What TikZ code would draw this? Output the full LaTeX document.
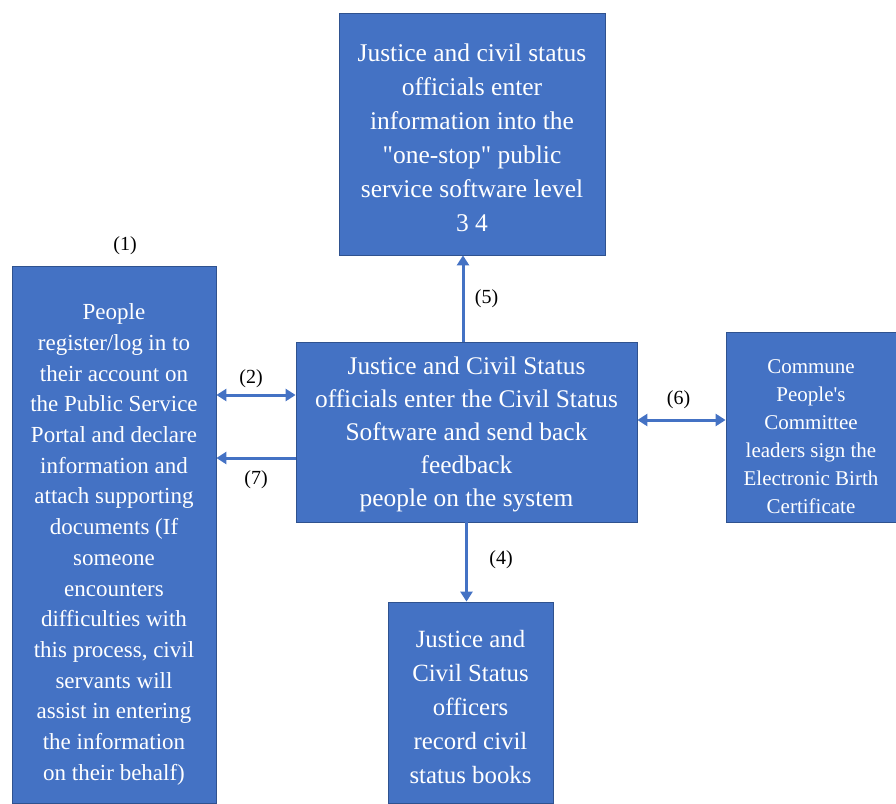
\documentclass[tikz,border=0pt]{standalone}
\usepackage{fontspec}
\setmainfont{Liberation Serif}
\newfontfamily\plainserif{Liberation Serif}
\usetikzlibrary{arrows.meta,positioning}
\definecolor{boxblue}{HTML}{4472C4}
\definecolor{boxline}{HTML}{2F528F}
\tikzset{>={Triangle[length=10pt,width=12pt]},
         stepbox/.style={draw=boxline, line width=0.8pt, fill=boxblue,
                         inner sep=0pt},
         steptext/.style={text=white, align=center, inner sep=0pt},
         flow/.style={draw=boxblue, line width=3pt},
         tag/.style={font=\fontsize{20}{24}\selectfont}}
\newcommand{\dquote}{{\plainserif"}}

\begin{document}
\begin{tikzpicture}[x=1pt, y=-1pt]
  \useasboundingbox (0,0) rectangle (896,803);
  % boxes
  \node (soft) [stepbox, minimum width=266pt, minimum height=242pt] at (472,134) {};
  \node (soft-txt) [steptext, yshift=-3.5pt, font=\fontsize{25.5}{34}\selectfont] at (soft)
        {Justice and civil status\\ officials enter\\ information into the\\
         \dquote one-stop\dquote{} public\\ service software level\\ 3 4};
  \node (people) [stepbox, minimum width=204pt, minimum height=537pt] at (114,534.5) {};
  \node (people-txt) [steptext, yshift=-10pt, font=\fontsize{23}{30.7}\selectfont] at (people)
        {People\\ register/log in to\\ their account on\\ the Public Service\\
         Portal and declare\\ information and\\ attach supporting\\
         documents (If\\ someone\\ encounters\\ difficulties with\\
         this process, civil\\ servants will\\ assist in entering\\
         the information\\ on their behalf)};
  \node (civil) [stepbox, minimum width=341pt, minimum height=180pt] at (466.5,432) {};
  \node (civil-txt) [steptext, yshift=-2pt, font=\fontsize{25.4}{33}\selectfont] at (civil)
        {Justice and Civil Status\\ officials enter the Civil Status\\
         Software and send back\\ feedback\\ people on the system};
  \node (commune) [stepbox, minimum width=170pt, minimum height=190pt] at (811,427) {};
  \node (commune-txt) [steptext, yshift=-10pt, font=\fontsize{21}{28}\selectfont] at (commune)
        {Commune\\ People\textquotesingle s\\ Committee\\ leaders sign the\\
         Electronic Birth\\ Certificate};
  \node (books) [stepbox, minimum width=165pt, minimum height=201pt] at (470.5,702.5) {};
  \node (books-txt) [steptext, yshift=-5pt, font=\fontsize{24.8}{34}\selectfont] at (books)
        {Justice and\\ Civil Status\\ officers\\ record civil\\ status books};
  % connectors
  \draw[flow, <->] ([yshift=37pt]civil.west -| people.east)
        -- node[tag, above=2pt, xshift=-5pt] {(2)} ([yshift=37pt]civil.west);
  \draw[flow, ->] ([yshift=-26pt]civil.west)
        -- node[tag, below=8pt] {(7)} ([yshift=-26pt]civil.west -| people.east);
  \draw[flow, ->] ([xshift=-3.5pt]civil.north)
        -- node[tag, right=7pt] {(5)} ([xshift=-3.5pt]civil.north |- soft.south);
  \draw[flow, <->] ([yshift=12pt]civil.east)
        -- node[tag, above=6pt, xshift=-3pt] {(6)} ([yshift=12pt]civil.east -| commune.west);
  \draw[flow, ->] (civil.south)
        -- node[tag, right=18pt, yshift=2pt] {(4)} (civil.south |- books.north);
  \node[tag, above=7pt of people.north, xshift=11pt] (one) {(1)};
\end{tikzpicture}
\end{document}
